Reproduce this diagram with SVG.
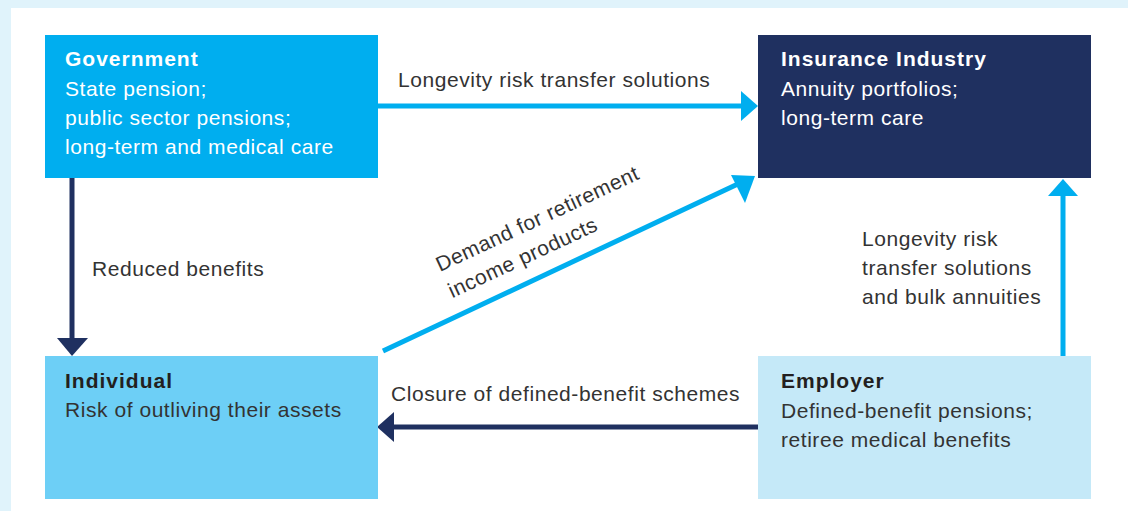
<svg xmlns="http://www.w3.org/2000/svg" width="1128" height="511" viewBox="0 0 1128 511">
<defs>
<style>
text{font-family:"Liberation Sans",Arial,sans-serif;font-size:21px;letter-spacing:0.55px}
.t{font-weight:bold;letter-spacing:1px}
.w{fill:#ffffff}
.d{fill:#231f20}
.b{fill:#333333}
.lab{fill:#333333}
.cy{stroke:#00aeef;stroke-width:5;fill:none}
.nv{stroke:#1f3060;stroke-width:5;fill:none}
</style>
</defs>
<rect x="0" y="0" width="1128" height="511" fill="#e0f3fb"/>
<rect x="11" y="8" width="1117" height="503" fill="#ffffff"/>

<g id="connectors">
<line class="cy" x1="378" y1="106" x2="742" y2="106"/>
<polygon points="758,106 741,91 741,121" fill="#00aeef"/>
<line class="nv" x1="72" y1="178" x2="72" y2="340"/>
<polygon points="72,356 57,338 88,338" fill="#1f3060"/>
<line class="cy" x1="383" y1="351" x2="740" y2="183"/>
<polygon points="755,176 731,175 745,203" fill="#00aeef"/>
<line class="cy" x1="1063" y1="356" x2="1063" y2="194"/>
<polygon points="1063,179 1048,196 1078,196" fill="#00aeef"/>
<line class="nv" x1="758" y1="427" x2="392" y2="427"/>
<polygon points="377,427 394,412 394,442" fill="#1f3060"/>
<text class="lab" x="398" y="87">Longevity risk transfer solutions</text>
<text class="lab" x="92" y="276">Reduced benefits</text>
<text class="lab" x="391" y="401">Closure of defined-benefit schemes</text>
<g transform="translate(440,272) rotate(-25)">
<text class="lab" x="0" y="0">Demand for retirement</text>
<text class="lab" x="0" y="29">income products</text>
</g>
<text class="lab" x="862" y="246">Longevity risk</text>
<text class="lab" x="862" y="275">transfer solutions</text>
<text class="lab" x="862" y="304">and bulk annuities</text>
</g>

<g id="government">
<rect x="45" y="35" width="333" height="143" fill="#00aeef"/>
<text class="t w" x="65" y="66">Government</text>
<text class="w" x="65" y="96">State pension;</text>
<text class="w" x="65" y="125">public sector pensions;</text>
<text class="w" x="65" y="154">long-term and medical care</text>
</g>

<g id="insurance">
<rect x="758" y="35" width="333" height="143" fill="#1f3060"/>
<text class="t w" x="781" y="66">Insurance Industry</text>
<text class="w" x="781" y="96">Annuity portfolios;</text>
<text class="w" x="781" y="125">long-term care</text>
</g>

<g id="individual">
<rect x="45" y="356" width="333" height="143" fill="#6dcff6"/>
<text class="t d" x="65" y="388">Individual</text>
<text class="b" x="65" y="417">Risk of outliving their assets</text>
</g>

<g id="employer">
<rect x="758" y="356" width="333" height="143" fill="#c5e9f8"/>
<text class="t d" x="781" y="388">Employer</text>
<text class="b" x="781" y="418">Defined-benefit pensions;</text>
<text class="b" x="781" y="447">retiree medical benefits</text>
</g>
</svg>
